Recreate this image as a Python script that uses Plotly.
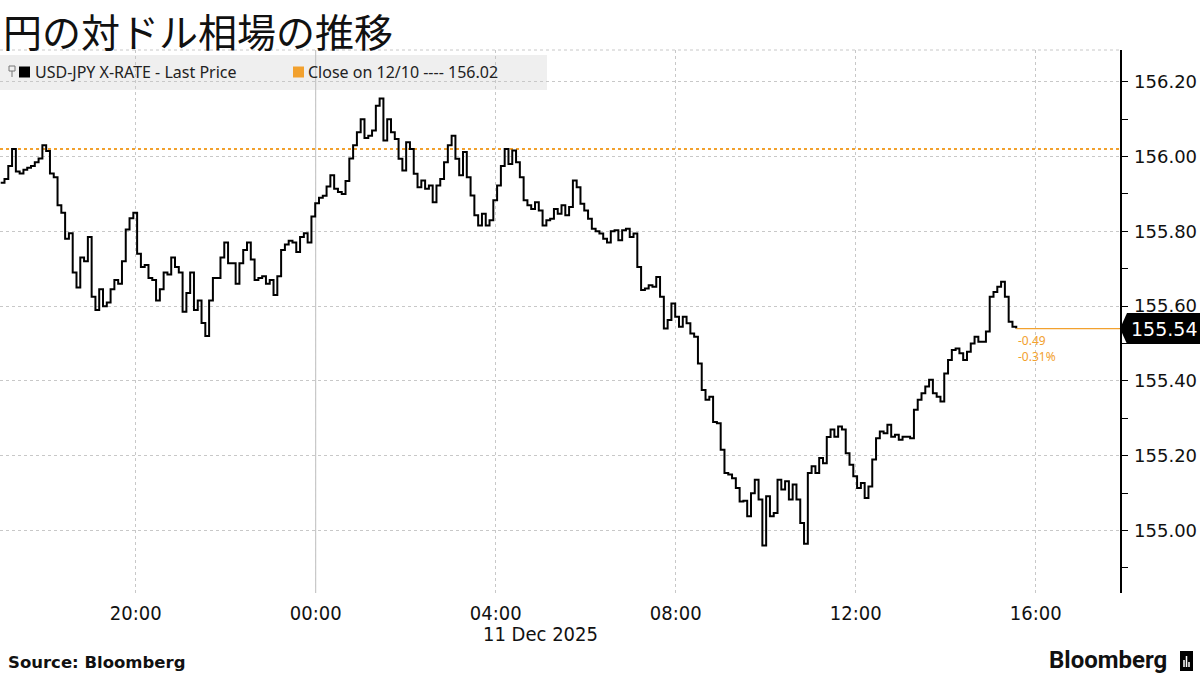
import plotly.graph_objects as go
import pandas as pd

# ---------------- data ----------------
title_text = "円の対ドル相場の推移"
series_name = "USD-JPY X-RATE - Last Price"
close_label = "Close on 12/10 ---- 156.02"
prev_close = 156.02
last_price = 155.54
change_abs = "-0.49"
change_pct = "-0.31%"
date_label = "11 Dec 2025"
source_text = "Source: Bloomberg"

start_time = "2025-12-10 17:00"
end_time = "2025-12-11 15:34"
x_range = ["2025-12-10 16:59:04", "2025-12-11 17:52:20"]
y_range = [154.833, 156.285]

x_tick_vals = ["2025-12-10 20:00", "2025-12-11 00:00", "2025-12-11 04:00",
               "2025-12-11 08:00", "2025-12-11 12:00", "2025-12-11 16:00"]
x_tick_text = ["20:00", "00:00", "04:00", "08:00", "12:00", "16:00"]
y_tick_vals = [155.0, 155.2, 155.4, 155.6, 155.8, 156.0, 156.2]
day_break = "2025-12-11 00:00"

prices = [
    155.930, 155.940, 155.975, 156.020, 155.960, 155.955, 155.965, 155.970, 155.975, 155.985,
    155.995, 156.030, 156.015, 155.955, 155.945, 155.870, 155.850, 155.780, 155.795, 155.690,
    155.650, 155.730, 155.720, 155.785, 155.625, 155.590, 155.645, 155.600, 155.610, 155.645,
    155.670, 155.660, 155.720, 155.805, 155.835, 155.850, 155.740, 155.705, 155.710, 155.675,
    155.670, 155.615, 155.645, 155.690, 155.685, 155.730, 155.705, 155.690, 155.585, 155.635,
    155.690, 155.590, 155.615, 155.555, 155.520, 155.615, 155.675, 155.675, 155.730, 155.770,
    155.715, 155.715, 155.660, 155.715, 155.750, 155.770, 155.725, 155.670, 155.675, 155.680,
    155.660, 155.670, 155.630, 155.680, 155.750, 155.765, 155.775, 155.770, 155.745, 155.785,
    155.795, 155.770, 155.840, 155.875, 155.890, 155.895, 155.920, 155.950, 155.914, 155.905,
    155.900, 155.935, 155.995, 156.030, 156.065, 156.100, 156.050, 156.056, 156.070, 156.136,
    156.155, 156.043, 156.100, 156.065, 156.047, 155.994, 155.963, 156.038, 156.020, 155.954,
    155.918, 155.936, 155.914, 155.923, 155.878, 155.923, 155.940, 155.985, 156.030, 156.056,
    155.994, 155.950, 156.012, 155.945, 155.896, 155.843, 155.816, 155.847, 155.816, 155.830,
    155.883, 155.923, 155.975, 156.020, 155.980, 156.016, 155.985, 155.945, 155.883, 155.870,
    155.860, 155.878, 155.856, 155.816, 155.830, 155.834, 155.860, 155.847, 155.870, 155.843,
    155.865, 155.936, 155.918, 155.874, 155.856, 155.834, 155.807, 155.800, 155.794, 155.780,
    155.770, 155.800, 155.803, 155.776, 155.803, 155.807, 155.785, 155.794, 155.705, 155.643,
    155.647, 155.656, 155.652, 155.678, 155.625, 155.540, 155.563, 155.607, 155.572, 155.545,
    155.572, 155.554, 155.527, 155.518, 155.447, 155.376, 155.350, 155.358, 155.290, 155.287,
    155.216, 155.154, 155.150, 155.140, 155.114, 155.078, 155.080, 155.038, 155.100, 155.136,
    155.083, 154.960, 155.092, 155.038, 155.047, 155.136, 155.110, 155.132, 155.083, 155.123,
    155.083, 155.020, 154.965, 155.154, 155.172, 155.154, 155.194, 155.180, 155.250, 155.270,
    155.251, 155.278, 155.270, 155.207, 155.176, 155.145, 155.114, 155.127, 155.087, 155.118,
    155.190, 155.247, 155.265, 155.260, 155.283, 155.251, 155.256, 155.243, 155.251, 155.251,
    155.247, 155.323, 155.350, 155.367, 155.385, 155.403, 155.367, 155.358, 155.345, 155.420,
    155.456, 155.483, 155.487, 155.474, 155.456, 155.478, 155.500, 155.518, 155.505, 155.505,
    155.532, 155.625, 155.638, 155.652, 155.665, 155.625, 155.558, 155.545, 155.540,
]

times = pd.date_range(start_time, end_time, periods=len(prices))

# ---------------- layout helpers (pixel -> paper) ----------------
FIG_W, FIG_H = 1200, 675
M_L, M_R, M_T, M_B = 0, 80, 50, 82
PW = FIG_W - M_L - M_R
PH = FIG_H - M_T - M_B


def px(x):
    return (x - M_L) / PW


def py(y):
    return (FIG_H - M_B - y) / PH


def vy(v):
    return (v - y_range[0]) / (y_range[1] - y_range[0])


BLACK = "#000000"
ORANGE = "#f2a12e"
GRID = "#c8c8c8"
TICK_FONT = "Liberation Sans Narrow, DejaVu Sans Condensed, Arial Narrow, sans-serif"

fig = go.Figure()

fig.add_trace(go.Scatter(
    x=times, y=prices, mode="lines", line=dict(color=BLACK, width=2, shape="hv"),
    name=series_name, showlegend=False, hoverinfo="skip"))

# last-price connector to the axis
fig.add_trace(go.Scatter(
    x=[times[-1], x_range[1]], y=[last_price, last_price], mode="lines",
    line=dict(color=ORANGE, width=1.2), showlegend=False, hoverinfo="skip"))

shapes = []
shapes.append(dict(type="rect", xref="paper", yref="paper", x0=px(0), x1=px(547),
                   y0=py(90), y1=py(55), fillcolor="#efefef", line=dict(width=0), layer="below"))
shapes.append(dict(type="line", xref="paper", yref="paper", x0=0, x1=1, y0=1, y1=1,
                   line=dict(color=GRID, width=1, dash="3px,3px"), layer="below"))
shapes.append(dict(type="line", xref="x", yref="paper", x0=day_break, x1=day_break, y0=0, y1=1,
                   line=dict(color="#bdbdbd", width=1), layer="below"))
shapes.append(dict(type="line", xref="paper", yref="y", x0=0, x1=1, y0=prev_close, y1=prev_close,
                   line=dict(color=ORANGE, width=2, dash="dot"), layer="between"))
shapes.append(dict(type="rect", xref="paper", yref="paper", x0=px(9), x1=px(15), y0=py(71), y1=py(66),
                   line=dict(color="#777777", width=1), fillcolor="rgba(0,0,0,0)"))
shapes.append(dict(type="line", xref="paper", yref="paper", x0=px(12), x1=px(12), y0=py(71), y1=py(77),
                   line=dict(color="#777777", width=1)))
shapes.append(dict(type="rect", xref="paper", yref="paper", x0=px(19), x1=px(30), y0=py(77.5), y1=py(66.5),
                   fillcolor=BLACK, line=dict(width=0)))
shapes.append(dict(type="rect", xref="paper", yref="paper", x0=px(293), x1=px(304), y0=py(77.5), y1=py(66.5),
                   fillcolor=ORANGE, line=dict(width=0)))
ly = vy(last_price)
hh = 15.5 / PH
shapes.append(dict(type="path", xref="paper", yref="paper",
                   path=(f"M {px(1120)},{ly} L {px(1127)},{ly + hh} L {px(1200)},{ly + hh} "
                         f"L {px(1200)},{ly - hh} L {px(1127)},{ly - hh} Z"),
                   fillcolor=BLACK, line=dict(width=0)))
shapes.append(dict(type="rect", xref="paper", yref="paper", x0=px(1180), x1=px(1193), y0=py(671), y1=py(651),
                   fillcolor=BLACK, line=dict(width=0)))
for bx, top in [(1184, 660), (1186.5, 656), (1189, 662)]:
    shapes.append(dict(type="line", xref="paper", yref="paper", x0=px(bx), x1=px(bx), y0=py(667), y1=py(top),
                       line=dict(color="white", width=1.5)))

annotations = []
annotations.append(dict(text=title_text, xref="paper", yref="paper", x=px(1), y=py(0),
                        xanchor="left", yanchor="top", showarrow=False,
                        font=dict(family="Noto Sans CJK JP", size=39, color="#111111")))
annotations.append(dict(text=series_name, xref="paper", yref="paper", x=px(33), y=py(72.5),
                        xanchor="left", yanchor="middle", showarrow=False,
                        font=dict(family="Noto Sans", size=16, color="#222222")))
annotations.append(dict(text=close_label, xref="paper", yref="paper", x=px(306), y=py(72.5),
                        xanchor="left", yanchor="middle", showarrow=False,
                        font=dict(family="Noto Sans", size=16, color="#222222")))
annotations.append(dict(text=f"{last_price:.2f}", xref="paper", yref="paper", x=px(1164), y=ly,
                        xanchor="center", yanchor="middle", showarrow=False,
                        font=dict(family="DejaVu Sans", size=19, color="white")))
annotations.append(dict(text=f"{change_abs}<br>{change_pct}", x=times[-1], y=last_price,
                        xref="x", yref="y", xanchor="left", yanchor="top", align="left",
                        showarrow=False, yshift=-1,
                        font=dict(family="Noto Sans", size=12, color=ORANGE)))
annotations.append(dict(text=date_label, xref="paper", yref="paper", x=px(540), y=py(634),
                        xanchor="center", yanchor="middle", showarrow=False,
                        font=dict(family=TICK_FONT, size=20, color="#111111")))
annotations.append(dict(text="<b>" + source_text + "</b>", xref="paper", yref="paper", x=px(6), y=py(662),
                        xanchor="left", yanchor="middle", showarrow=False,
                        font=dict(family="DejaVu Sans", size=16.5, color="#111111")))
annotations.append(dict(text="<b>Bloomberg</b>", xref="paper", yref="paper", x=px(1169), y=py(660),
                        xanchor="right", yanchor="middle", showarrow=False,
                        font=dict(family="Roboto", size=24, color="#111111")))

fig.update_layout(
    width=FIG_W, height=FIG_H,
    margin=dict(l=M_L, r=M_R, t=M_T, b=M_B, pad=0),
    paper_bgcolor="white", plot_bgcolor="rgba(0,0,0,0)",
    showlegend=False,
    shapes=shapes, annotations=annotations,
    xaxis=dict(type="date", range=x_range, tickvals=x_tick_vals, ticktext=x_tick_text,
               showgrid=True, gridcolor=GRID, gridwidth=1, griddash="3px,3px",
               showline=False, zeroline=False, ticks="", ticklabelstandoff=6,
               tickfont=dict(family=TICK_FONT, size=20, color="#111111")),
    yaxis=dict(range=y_range, side="right", tickvals=y_tick_vals, tickformat=".2f",
               showgrid=True, gridcolor=GRID, gridwidth=1, griddash="3px,3px",
               showline=True, linecolor=BLACK, linewidth=1.5, zeroline=False,
               ticks="outside", ticklen=6, tickcolor=BLACK, tickwidth=1, ticklabelstandoff=3,
               minor=dict(dtick=0.1, tick0=155.0, ticks="outside", ticklen=6, tickcolor=BLACK, showgrid=False),
               tickfont=dict(family="DejaVu Sans", size=18, color="#111111")),
)

fig.write_html(
    "out.html",
    config={"displayModeBar": False, "staticPlot": True},
    post_script="document.body.style.margin='0';document.body.style.overflow='hidden';",
)
